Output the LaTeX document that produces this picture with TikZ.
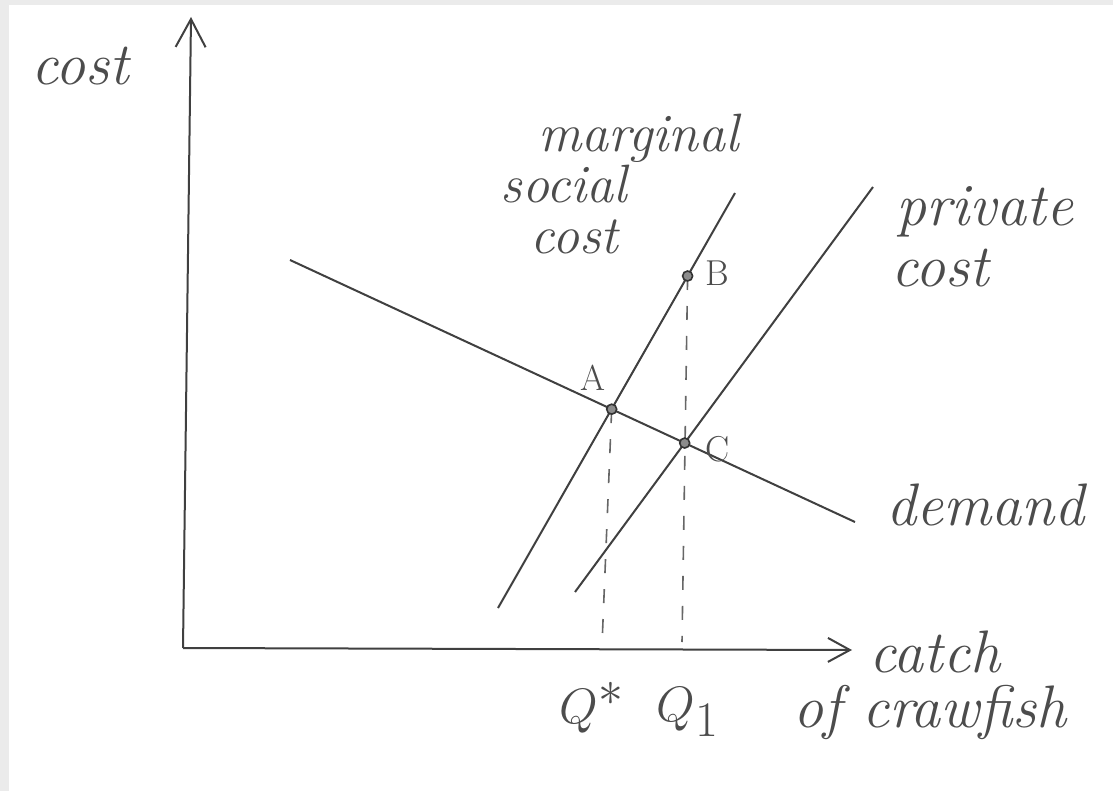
\documentclass[tikz,border=0pt]{standalone}
\usepackage{tikz}
\usetikzlibrary{arrows.meta,calc}
\tikzset{
  curve/.style={draw=black!75, line width=1pt},
  guide/.style={draw=black!60, line width=0.8pt, dash pattern=on 7pt off 8pt},
  pt/.style={circle, draw=black!80, fill=black!45, line width=0.8pt, inner sep=0pt, minimum size=5pt},
  hand/.style={font=\fontsize{30}{34}\selectfont\itshape, text=black!70, inner sep=0pt},
  stack/.style={hand, align=left, font={\fontsize{27}{25.5}\selectfont\itshape\lineskiplimit=-100pt\relax}},
  lab/.style={font=\fontsize{18}{20}\selectfont, text=black!70, inner sep=0pt},
  qlab/.style={font=\fontsize{44}{48}\selectfont, text=black!70, inner sep=0pt}}

\begin{document}
\begin{tikzpicture}[x=0.5pt, y=-0.5pt]
  % paper
  \fill[gray!16] (0,0) rectangle (1113,791);
  \fill[white] (9,5) rectangle (1113,791);
  % axes
  \coordinate (O) at (183,648);
  \coordinate (ytop) at (191,17);
  \coordinate (xend) at (852,650);
  \draw[curve, -{Straight Barb[length=14pt, width=15pt]}] (O) -- (ytop);
  \draw[curve, -{Straight Barb[length=11pt, width=12pt]}] (O) -- (xend);
  % demand, marginal social cost, private cost
  \coordinate (d1) at (290,260); \coordinate (d2) at (855,522);
  \coordinate (m1) at (498,608); \coordinate (m2) at (735,193);
  \coordinate (p1) at (575,592); \coordinate (p2) at (873,187);
  \draw[curve] (d1) -- (d2);
  \draw[curve] (m1) -- (m2);
  \draw[curve] (p1) -- (p2);
  \coordinate (A) at (intersection of d1--d2 and m1--m2);
  \coordinate (C) at (intersection of d1--d2 and p1--p2);
  \coordinate (B) at ($(m1)!0.8!(m2)$);
  \coordinate (qs) at (602,645);
  \coordinate (q1) at (682,642);
  \draw[guide] (A) -- (qs);
  \draw[guide] (B) -- (q1);
  \node[pt] (dA) at (A) {};
  \node[pt] (dB) at (B) {};
  \node[pt] (dC) at (C) {};
  % labels
  \node[lab] (lA) at (593,378) {A};
  \node[lab] (lB) at (717,273) {B};
  \node[lab] (lC) at (718,449) {C};
  \node[hand] (ycost) at (80,66) {cost};
  \node[stack, anchor=north west] (msc) at (500,114)
    {\hspace{19pt}marginal\\social\\\hspace{15pt}cost};
  \node[hand] (pc1) at (985,212) {private};
  \node[hand] (pc2) at (940,268) {cost};
  \node[hand] (dem) at (985,505) {demand};
  \node[hand] (xl1) at (935,652) {catch};
  \node[hand] (xl2) at (930,712) {of crawfish};
  \node[qlab] (lqs) at (592,708) {$Q^*$};
  \node[qlab] (lq1) at (688,712) {$Q_1$};
\end{tikzpicture}
\end{document}
